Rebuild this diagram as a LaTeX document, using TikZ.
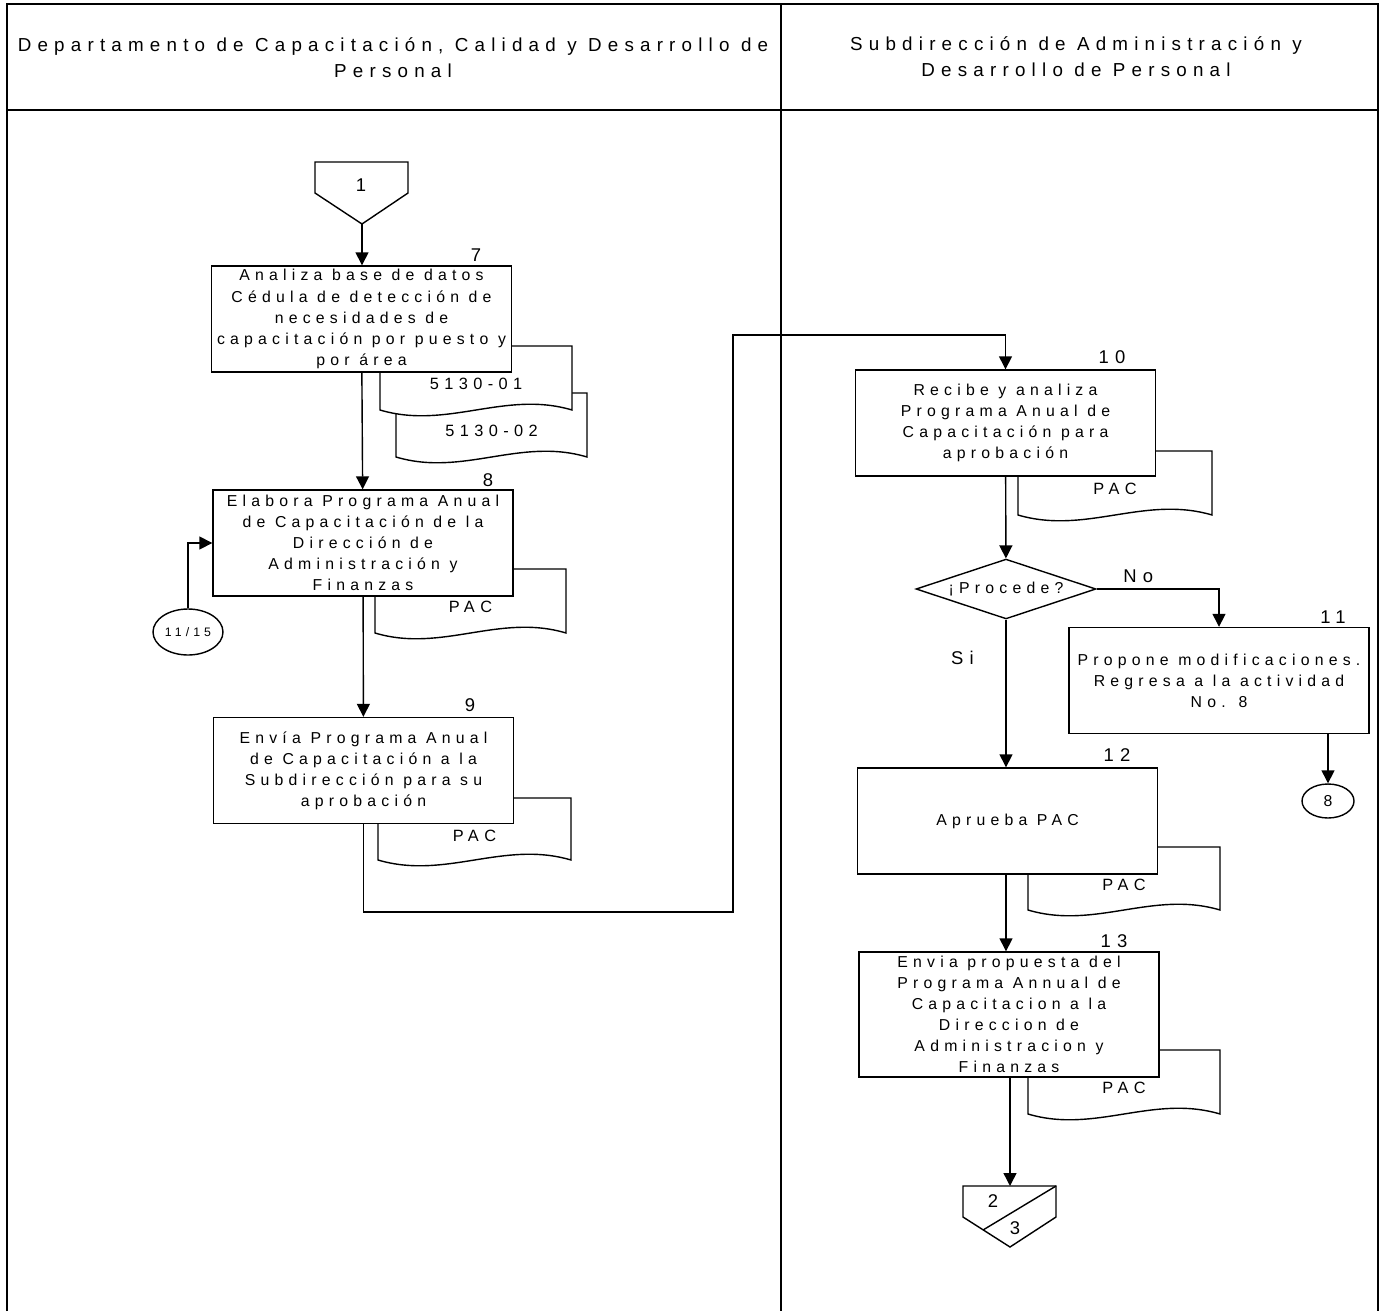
\documentclass[tikz,border=0pt]{standalone}
\usepackage{fontspec}
\setmainfont{Liberation Sans}[LetterSpace=33]
\usetikzlibrary{shapes.geometric, arrows.meta, positioning, calc, backgrounds}

% documento con borde inferior ondulado: x1, y1, x2, y2, nombre, texto
\newcommand{\pacdoc}[6]{%
  \draw[line, fill=white] (#1,#2) -- (#3,#2) -- (#3,#4)
    .. controls ({#1+0.65*(#3-#1)},{#4-20}) and ({#1+0.35*(#3-#1)},{#4+20}) .. (#1,#4) -- cycle;
  \node[doctxt] (#5) at ({0.5*(#1+#3)},{#2+38}) {#6};}

\begin{document}
\begin{tikzpicture}[
    x=0.02cm, y=-0.02cm,
    line/.style={line width=0.8pt},
    box/.style={draw, line width=0.8pt, rectangle, fill=white, minimum width=6cm,
      minimum height=2.12cm, inner sep=0pt, align=center, font=\fontsize{9pt}{12pt}\selectfont},
    doctxt/.style={inner sep=0pt, font=\fontsize{9.3pt}{12pt}\selectfont},
    num/.style={inner sep=0pt, font=\fontsize{10.5pt}{12pt}\selectfont},
    head/.style={inner sep=0pt, align=center, font=\fontsize{10.7pt}{14.8pt}\selectfont},
    decision/.style={draw, line width=0.8pt, shape=diamond, shape aspect=2.5, fill=white,
      minimum width=3.6cm, inner sep=0pt, font=\fontsize{9pt}{12pt}\selectfont},
    conn/.style={draw, line width=0.8pt, ellipse, inner sep=0pt},
    arrow/.style={line width=0.8pt, -{Triangle[length=0.26cm, width=0.26cm]}}
]
\useasboundingbox (0,0) rectangle (1381,1311);

% marco y carriles
\draw[line] (7,1311) -- (7,4) -- (1378,4) -- (1378,1311);
\draw[line] (7,110) -- (1378,110);
\draw[line] (781,4) -- (781,1311);
\node[head] (lane1) at (393,58) {Departamento de Capacitación, Calidad y Desarrollo de\\Personal};
\node[head] (lane2) at (1076,57) {Subdirección de Administración y\\Desarrollo de Personal};

% documentos (detras de las cajas)
\pacdoc{396}{393}{587}{457}{d7b}{5130-02}
\pacdoc{380}{346}{572}{410}{d7a}{5130-01}
\pacdoc{375}{569}{566}{633}{d8}{PAC}
\pacdoc{378}{798}{571}{860}{d9}{PAC}
\pacdoc{1018}{451}{1212}{515}{d10}{PAC}
\pacdoc{1028}{847}{1220}{910}{d12}{PAC}
\pacdoc{1028}{1050}{1220}{1114}{d13}{PAC}

% conector de entrada
\draw[line] (315,162) -- (408,162) -- (408,193) -- (362,224) -- (315,193) -- cycle;
\node[num] (c1) at (361,185) {1};
\coordinate (c1tip) at (362,224);

% actividades
\node[box] (a7) at (361.5,319) {Analiza base de datos\\Cédula de detección de\\necesidades de\\capacitación por puesto y\\por área};
\node[num] (n7) at (476,255) {7};
\node[box] (a8) at (363,543) {Elabora Programa Anual\\de Capacitación de la\\Dirección de\\Administración y\\Finanzas};
\node[num] (n8) at (488,480) {8};
\node[conn, minimum width=1.4cm, minimum height=0.92cm, font=\fontsize{7pt}{8pt}\selectfont] (c1115) at (188,632) {11/15};
\node[box] (a9) at (363.5,770.5) {Envía Programa Anual\\de Capacitación a la\\Subdirección para su\\aprobación};
\node[num] (n9) at (470,705) {9};

\node[box] (a10) at (1005.5,423) {Recibe y analiza\\Programa Anual de\\Capacitación para\\aprobación};
\node[num] (n10) at (1112,357) {10};
\node[decision] (dec) at (1006,589) {¡Procede?};
\node[box] (a11) at (1219,680.5) {Propone modificaciones.\\Regresa a la actividad\\No. 8};
\node[num] (n11) at (1333,617) {11};
\node[conn, minimum width=1.04cm, minimum height=0.68cm, font=\fontsize{9pt}{10pt}\selectfont] (c8) at (1328,801) {8};
\node[box] (a12) at (1007.5,821) {Aprueba PAC};
\node[num] (n12) at (1117,755) {12};
\node[box, minimum height=2.5cm] (a13) at (1009,1014.5) {Envia propuesta del\\Programa Annual de\\Capacitacion a la\\Direccion de\\Administracion y\\Finanzas};
\node[num] (n13) at (1114,941) {13};

% conector de salida
\draw[line] (963,1186) -- (1056,1186) -- (1056,1217) -- (1010,1247) -- (963,1217) -- cycle;
\draw[line] (1056,1186) -- (983,1230);
\node[num] (c2) at (993,1201) {2};
\node[num] (c3) at (1015,1228) {3};
\coordinate (c23top) at (1010,1186);

% flujo
\coordinate (r1) at (733,912);
\coordinate (r2) at (733,335);
\draw[arrow] (c1tip) -- (a7.north -| c1tip);
\draw[arrow] (a7) -- (a8);
\draw[arrow] (c1115.north) |- (a8.west);
\draw[arrow] (a8) -- (a9);
\draw[arrow] (a9.south) |- (r1) -- (r2) -| (a10.north);
\draw[arrow] (a10) -- (dec);
\draw[arrow] (dec.east) -| node[num, pos=0.17, above=3pt] (lno) {No} (a11.north);
\draw[arrow] (c8 |- a11.south) -- (c8.north);
\draw[arrow] (dec.south) -- node[num, pos=0.26, left=18pt] (lsi) {Si} (dec.south |- a12.north);
\draw[arrow] (a12.south -| dec.south) -- (a13.north -| dec.south);
\draw[arrow] (a13.south -| c23top) -- (c23top);
\end{tikzpicture}
\end{document}
